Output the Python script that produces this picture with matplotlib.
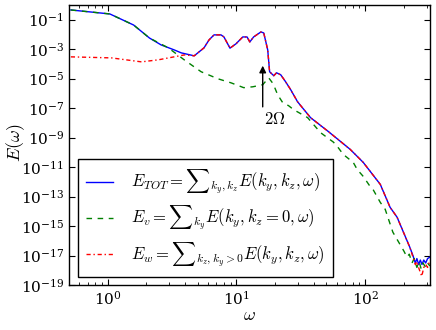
import numpy as np
import matplotlib
matplotlib.use("Agg")
import matplotlib.pyplot as plt
from matplotlib.ticker import FixedLocator, LogFormatterMathtext, NullLocator, LogLocator

plt.rcParams.update({
    "mathtext.fontset": "cm",
    "font.family": "serif",
    "font.serif": ["DejaVu Serif"],
    "font.size": 12,
    "xtick.labelsize": 11,
    "ytick.labelsize": 11,
    "xtick.direction": "in",
    "ytick.direction": "in",
    "xtick.top": True,
    "ytick.right": True,
    "xtick.major.size": 4,
    "ytick.major.size": 4,
    "xtick.minor.size": 2,
    "ytick.minor.size": 2,
    "xtick.major.pad": 3.5,
    "ytick.major.pad": 3.5,
    "axes.linewidth": 1.0,
})

# ---- data (omega, log10 E) ----
tot_omega = [0.518, 1.04, 1.59, 2.11, 2.6, 3.29, 3.73, 4.70, 5.6, 6.13, 6.70, 7.59, 8.00,
             8.91, 9.91, 11.2, 12.1, 12.7, 13.6, 15.5, 16.3, 17.5, 18.1, 19.5, 20.5, 22.1,
             24.1, 26.4, 29.8, 37.6, 52.0, 76.6, 96.6, 131, 156, 177, 222, 235, 245, 252,
             260, 268, 276, 285, 295, 305, 318]
tot_log = [-0.34, -0.61, -1.36, -2.24, -2.71, -3.05, -3.25, -3.45, -2.91, -2.37, -2.03, -2.03, -2.17,
           -2.93, -2.64, -2.17, -2.17, -2.51, -2.17, -1.83, -1.90, -3.05, -4.53, -4.80, -4.60, -4.74,
           -5.21, -5.75, -6.56, -7.64, -8.60, -9.80, -10.68, -12.17, -13.72, -14.40, -16.43, -17.0, -17.5, -17.2,
           -17.6, -17.3, -17.6, -17.3, -17.5, -17.2, -17.1]

v_omega = [0.518, 1.04, 1.59, 2.11, 2.96, 3.93, 4.70, 5.32, 7.20, 9.07, 11.4, 13.4, 16.0, 17.8,
           19.3, 20.9, 22.9, 25.4, 27.8, 35.7, 45.0, 56.6, 60.8, 67.6, 80.8, 86.7, 96.6, 109, 115,
           131, 143, 164, 200, 211, 220, 231, 240, 252, 262, 272, 281, 295, 305, 318]
v_log = [-0.34, -0.61, -1.36, -2.24, -2.91, -3.72, -4.20, -4.53, -5.01, -5.28, -5.61, -5.55, -5.41, -4.94,
         -5.35, -6.09, -6.63, -6.83, -7.10, -7.64, -8.66, -9.30, -9.60, -10.14, -10.68, -11.16, -11.63, -12.30, -12.51,
         -13.39, -13.86, -15.41, -16.7, -17.1, -16.9, -17.5, -17.2, -17.8, -17.4, -17.9, -17.5, -17.8, -17.5, -17.7]

w_omega = [0.518, 1.07, 1.83, 2.48, 3.93, 4.70, 5.6, 6.13, 6.70, 7.59, 8.00,
           8.91, 9.91, 11.2, 12.1, 12.7, 13.6, 15.5, 16.3, 17.5, 18.1, 19.5, 20.5, 22.1,
           24.1, 26.4, 29.8, 37.6, 52.0, 76.6, 96.6, 131, 156, 177, 222, 235, 245, 252,
           262, 275, 285, 295, 305, 318]
w_log = [-3.52, -3.59, -3.86, -3.72, -3.39, -3.45, -2.91, -2.37, -2.03, -2.03, -2.17,
         -2.93, -2.64, -2.17, -2.17, -2.51, -2.17, -1.83, -1.90, -3.05, -4.53, -4.80, -4.60, -4.74,
         -5.21, -5.75, -6.56, -7.64, -8.60, -9.80, -10.68, -12.17, -13.72, -14.40, -16.43, -17.1, -17.6, -17.4,
         -17.9, -18.4, -17.8, -17.6, -17.8, -17.3]

labels = [r"$E_{TOT}={\sum}_{k_y,k_z}E(k_y,k_z,\omega)$",
          r"$E_v={\sum}_{k_y}E(k_y,k_z=0,\omega)$",
          r"$E_w={\sum}_{k_z,k_y>0}E(k_y,k_z,\omega)$"]

fig = plt.figure(figsize=(4.36, 3.30), dpi=100)
ax = fig.add_axes([0.158, 0.136, 0.828, 0.849])

ax.plot(tot_omega, 10.0 ** np.array(tot_log), color="b", lw=1.0, label=labels[0])
ax.plot(v_omega, 10.0 ** np.array(v_log), color="g", lw=1.0, ls="--", dashes=(4, 4), label=labels[1])
ax.plot(w_omega, 10.0 ** np.array(w_log), color="r", lw=1.0, ls="-.", dashes=(3, 2, 1, 2), label=labels[2])

ax.set_xscale("log")
ax.set_yscale("log")
ax.set_xlim(0.5, 318)
ax.set_ylim(1e-19, 1e0)

ax.yaxis.set_major_locator(FixedLocator(10.0 ** np.arange(-19, 0, 2)))
ax.yaxis.set_major_formatter(LogFormatterMathtext())
ax.yaxis.set_minor_locator(NullLocator())
ax.xaxis.set_major_locator(LogLocator(base=10))
ax.xaxis.set_minor_locator(LogLocator(base=10, subs=np.arange(2, 10)))

ax.annotate("", xy=(16.0, 10 ** -3.93), xytext=(16.0, 10 ** -7.1),
            arrowprops=dict(arrowstyle="-|>", color="k", lw=1.0, mutation_scale=10))
ax.text(16.3, 10 ** -7.2, r"$2\Omega$", fontsize=12, ha="left", va="top")

ax.set_xlabel(r"$\omega$", fontsize=13)
ax.set_ylabel(r"$E(\omega)$", fontsize=13)
ax.xaxis.set_label_coords(0.501, -0.075)
ax.yaxis.set_label_coords(-0.115, 0.507)

leg = ax.legend(loc="lower left", bbox_to_anchor=(0.025, 0.029), borderaxespad=0,
                fancybox=False, framealpha=1, edgecolor="k", fontsize=12,
                handlelength=1.6, handletextpad=1.1, labelspacing=0.45, borderpad=0.5)
leg.get_frame().set_linewidth(1.0)

fig.savefig("out.png", dpi=100)
